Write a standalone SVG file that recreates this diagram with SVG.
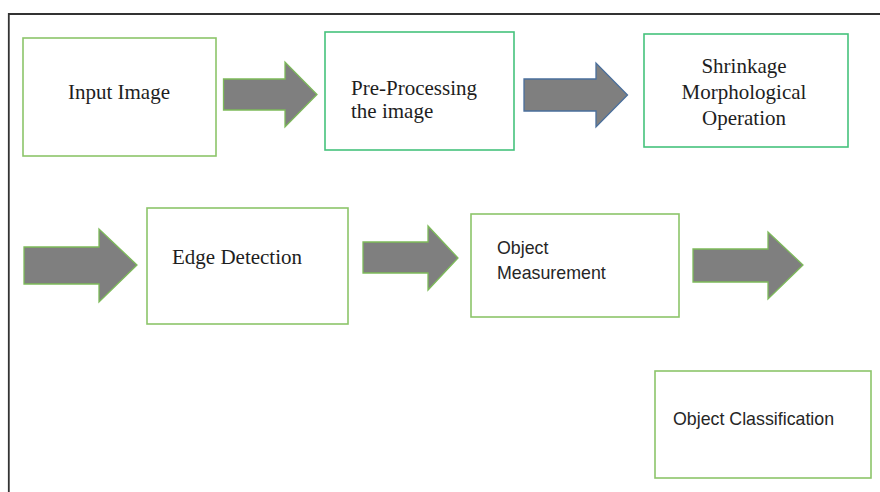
<svg xmlns="http://www.w3.org/2000/svg" width="880" height="492" viewBox="0 0 880 492">
<style>
.bg{fill:#ffffff}
.frame{fill:none;stroke:#333333;stroke-width:1.8}
.box{fill:#ffffff;stroke:#8cc56a;stroke-width:1.6}
.box2{fill:#ffffff;stroke:#45c27c;stroke-width:1.6}
.arr{fill:#7f7f7f;stroke:#7dba5a;stroke-width:1.3;stroke-linejoin:miter}
.arrb{fill:#7f7f7f;stroke:#4a6f9c;stroke-width:1.3;stroke-linejoin:miter}
.serif{font-family:"Liberation Serif","Times New Roman",serif;font-size:21px;fill:#1e1e1e}
.sans{font-family:"Liberation Sans",Arial,sans-serif;font-size:17.8px;fill:#262626}
</style>
<rect class="bg" x="0" y="0" width="880" height="492"/>
<path class="frame" d="M8.8,494 V14 H882"/>
<g id="connectors">
<path class="arr" d="M223.5,79 H285 V62 L317,94.5 L285,127 V110 H223.5 Z"/>
<path class="arrb" d="M524,79 H596 V63 L627.5,95 L596,127 V111 H524 Z"/>
<path class="arr" d="M24,247 H99 V229 L137,265 L99,302 V284 H24 Z"/>
<path class="arr" d="M363,242 H428 V226 L458,258 L428,290 V273 H363 Z"/>
<path class="arr" d="M693,249 H768 V232 L803,265 L768,299 V282 H693 Z"/>
</g>
<g id="input-image">
<rect class="box" x="23" y="38" width="193" height="118"/>
<text class="serif" x="119" y="99" text-anchor="middle">Input Image</text>
</g>
<g id="pre-processing">
<rect class="box2" x="325" y="32" width="189" height="118"/>
<text class="serif" x="351" y="95">Pre-Processing</text>
<text class="serif" x="351" y="118">the image</text>
</g>
<g id="shrinkage">
<rect class="box2" x="644" y="34" width="204" height="113"/>
<text class="serif" x="744" y="73" text-anchor="middle">Shrinkage</text>
<text class="serif" x="744" y="99" text-anchor="middle">Morphological</text>
<text class="serif" x="744" y="125" text-anchor="middle">Operation</text>
</g>
<g id="edge-detection">
<rect class="box" x="147" y="208" width="201" height="116"/>
<text class="serif" x="172" y="264">Edge Detection</text>
</g>
<g id="object-measurement">
<rect class="box" x="471" y="214" width="208" height="103"/>
<text class="sans" x="497" y="254">Object</text>
<text class="sans" x="497" y="279">Measurement</text>
</g>
<g id="object-classification">
<rect class="box" x="655" y="371" width="216" height="107"/>
<text class="sans" x="673" y="425">Object Classification</text>
</g>
</svg>
